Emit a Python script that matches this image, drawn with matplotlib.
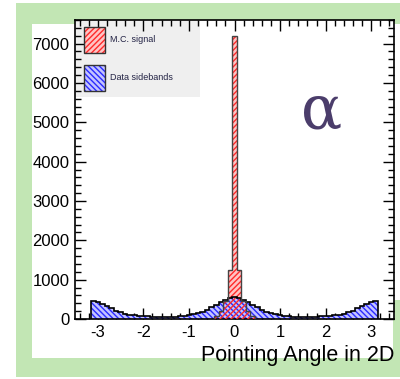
import matplotlib
matplotlib.use("Agg")
import matplotlib.pyplot as plt
from matplotlib.patches import Rectangle
from matplotlib.ticker import MultipleLocator

plt.rcParams['font.family'] = ['Liberation Sans', 'DejaVu Sans']
plt.rcParams['hatch.linewidth'] = 1.0

# Data sidebands: bin centres (width 0.1) and counts
side_x = [round(-3.1 + 0.1 * i, 1) for i in range(63)]
side_counts = [
    470, 440, 390, 330, 270, 215, 170, 135, 110, 90,
    78, 70, 64, 60, 57, 55, 55, 57, 62, 70,
    82, 98, 120, 150, 190, 240, 295, 355, 420, 480,
    530, 560,
    530, 480, 420, 355, 295, 240, 190, 150, 120, 98,
    82, 70, 62, 57, 55, 55, 57, 60, 64, 70,
    78, 90, 110, 135, 170, 215, 270, 330, 390, 440, 470,
]

# M.C. signal: bin edges and counts
sig_edges = [-0.45, -0.35, -0.25, -0.15, -0.05, 0.05, 0.15, 0.25, 0.35, 0.45]
sig_counts = [80, 200, 450, 1250, 7200, 1250, 450, 200, 80]

y_ticks = [0, 1000, 2000, 3000, 4000, 5000, 6000, 7000]
x_ticks = [-3, -2, -1, 0, 1, 2, 3]

W, H = 400, 379
fig = plt.figure(figsize=(W / 100, H / 100), dpi=100)

GREEN = '#c2e6b4'


def band(x0, y0, x1, y1):
    """Green frame band given in pixel coordinates (origin top-left)."""
    fig.patches.append(Rectangle((x0 / W, 1 - y1 / H), (x1 - x0) / W, (y1 - y0) / H,
                                 transform=fig.transFigure, facecolor=GREEN,
                                 edgecolor='none', zorder=0))


band(16, 3, 400, 24)      # top
band(16, 3, 32, 376)      # left
band(16, 358, 400, 377)   # bottom
band(393, 300, 400, 377)  # lower right

ax = fig.add_axes([75 / W, 1 - 319 / H, (394 - 75) / W, (319 - 20) / H])
ax.set_zorder(2)
ax.set_xlim(-3.5, 3.5)
ax.set_ylim(0, 7600)

BLUE_FACE = '#c4c4ff'
BLUE_HATCH = '#2a2aff'
RED_FACE = '#ffc4c4'
RED_HATCH = '#ff2a2a'

# sideband histogram
side_edges = [x - 0.05 for x in side_x] + [side_x[-1] + 0.05]
ax.stairs(side_counts, side_edges, fill=True, facecolor=BLUE_FACE,
          edgecolor=BLUE_HATCH, hatch='\\\\\\\\\\\\', linewidth=0, zorder=2)
ax.stairs(side_counts, side_edges, fill=False, edgecolor='black',
          linewidth=1.2, zorder=4)

# signal histogram
ax.stairs(sig_counts[3:6], sig_edges[3:7], fill=True, facecolor=RED_FACE,
          edgecolor='none', linewidth=0, zorder=1.5)
ax.stairs(sig_counts, sig_edges, fill=True, facecolor='none',
          edgecolor=RED_HATCH, hatch='//////', linewidth=0, zorder=3)
ax.stairs(sig_counts, sig_edges, fill=False, edgecolor='#444444',
          linewidth=1.0, zorder=4)

ax.set_xticks(x_ticks)
ax.set_xticklabels([str(v) for v in x_ticks])
ax.set_yticks(y_ticks)
ax.set_yticklabels([str(v) for v in y_ticks])
ax.xaxis.set_minor_locator(MultipleLocator(0.2))
ax.yaxis.set_minor_locator(MultipleLocator(200))
ax.tick_params(which='both', direction='in', top=True, right=True,
               labelsize=12, width=1.0)
ax.tick_params(which='major', length=8, pad=4)
ax.tick_params(which='minor', length=4)
for s in ax.spines.values():
    s.set_linewidth(1.2)

ax.set_xlabel('Pointing Angle in 2D', fontsize=15.5, loc='right', labelpad=4)

# legend panel
ax.add_patch(Rectangle((0, 1 - 77 / 299), 125 / 319, 77 / 299,
                       transform=ax.transAxes, facecolor='#efefef',
                       edgecolor='none', zorder=1))
for top, face, hcol, hatch in [(7, RED_FACE, RED_HATCH, '//////'),
                               (45, BLUE_FACE, BLUE_HATCH, '\\\\\\\\\\\\')]:
    ax.add_patch(Rectangle((9 / 319, 1 - (top + 26) / 299), 21 / 319, 26 / 299,
                           transform=ax.transAxes, facecolor=face,
                           edgecolor=hcol, hatch=hatch, linewidth=0, zorder=5))
    ax.add_patch(Rectangle((9 / 319, 1 - (top + 26) / 299), 21 / 319, 26 / 299,
                           transform=ax.transAxes, fill=False,
                           edgecolor='#333333', linewidth=1.0, zorder=6))
ax.text(35 / 319, 1 - 20 / 299, 'M.C. signal', transform=ax.transAxes,
        fontsize=6.5, va='center', ha='left', color='#222244', zorder=6)
ax.text(35 / 319, 1 - 58 / 299, 'Data sidebands', transform=ax.transAxes,
        fontsize=6.5, va='center', ha='left', color='#222244', zorder=6)

# alpha marker
fig.text(322 / W, 1 - 112 / H, '\u03b1', fontsize=44, color='#4b3d6b',
         family=['DejaVu Serif'], ha='center', va='center')

fig.savefig('out.png', dpi=100)
